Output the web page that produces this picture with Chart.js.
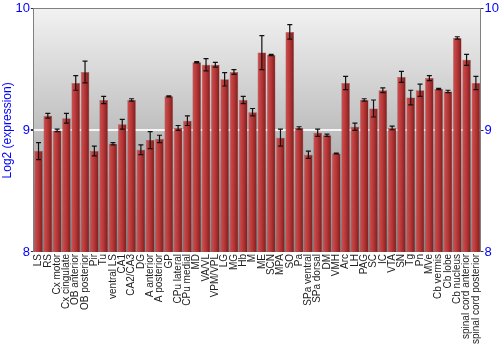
<!DOCTYPE html>
<html>
<head>
<meta charset="utf-8">
<script src="https://cdn.jsdelivr.net/npm/chart.js@4/dist/chart.umd.min.js"></script>
<style>
	html, body { margin: 0; padding: 0; background: #fff; }
	#wrap { width: 500px; height: 350px; }
</style>
</head>
<body>
<div id="wrap"><canvas id="expr"></canvas></div>
<script>
// 腦區名稱
const regions = ["LS", "RS", "Cx motor", "Cx cingulate", "OB anterior", "OB posterior", "Pir", "Tu",
	"ventral LS", "CA1", "CA2/CA3", "DG", "A anterior", "A posterior", "GP", "CPu lateral", "CPu medial",
	"MD", "VA/VL", "VPM/VPL", "LG", "MG", "Hb", "M", "ME", "SCN", "MPA", "SO", "Pa", "SPa ventral",
	"SPa dorsal", "DM", "VMH", "Arc", "LH", "PAG", "SC", "IC", "VTA", "SN", "Tg", "Pn", "MVe",
	"Cb vermis", "Cb lobe", "Cb nucleus", "spinal cord anterior", "spinal cord posterior"];

// 平均值 (log2)
const meanVals = [8.83, 9.12, 9.00, 9.10, 9.39, 9.48, 8.83, 9.25,
	8.89, 9.05, 9.25, 8.84, 8.92, 8.93, 9.28, 9.02, 9.08,
	9.56, 9.54, 9.54, 9.42, 9.48, 9.25, 9.15, 9.64, 9.62, 8.94, 9.81, 9.02, 8.80,
	8.98, 8.96, 8.81, 9.39, 9.03, 9.25, 9.18, 9.33, 9.02, 9.44, 9.27, 9.33, 9.43,
	9.34, 9.32, 9.76, 9.58, 9.39];

// 誤差
const errVals = [0.07, 0.02, 0.01, 0.04, 0.06, 0.09, 0.04, 0.03,
	0.01, 0.04, 0.01, 0.04, 0.07, 0.03, 0.005, 0.02, 0.04,
	0.005, 0.05, 0.02, 0.055, 0.02, 0.03, 0.03, 0.14, 0.005, 0.07, 0.06, 0.01, 0.03,
	0.03, 0.01, 0.003, 0.055, 0.03, 0.01, 0.07, 0.02, 0.015, 0.045, 0.06, 0.05, 0.02,
	0.005, 0.01, 0.01, 0.045, 0.055];

const yTicks = [8, 9, 10];

// 背景漸層
const bgPlugin = {
	id: "bgFill",
	beforeDraw: (chart) => {
		const { ctx, chartArea: a } = chart;
		const g = ctx.createLinearGradient(0, a.top, 0, a.bottom);
		g.addColorStop(0, "#f2f2f2");
		g.addColorStop(1, "#8c8c8c");
		ctx.save();
		ctx.fillStyle = g;
		ctx.fillRect(a.left, a.top, a.right - a.left, a.bottom - a.top);
		ctx.restore();
	}
};

// 誤差線
const errPlugin = {
	id: "errBars",
	afterDatasetsDraw: (chart) => {
		const ctx = chart.ctx;
		const y = chart.scales.y;
		const meta = chart.getDatasetMeta(0);
		ctx.save();
		ctx.strokeStyle = "#111";
		ctx.lineWidth = 1.2;
		meta.data.forEach((bar, i) => {
			const hi = y.getPixelForValue(meanVals[i] + errVals[i]);
			const lo = y.getPixelForValue(meanVals[i] - errVals[i]);
			ctx.beginPath();
			ctx.moveTo(bar.x, hi);
			ctx.lineTo(bar.x, lo);
			ctx.moveTo(bar.x - 2.5, hi);
			ctx.lineTo(bar.x + 2.5, hi);
			ctx.moveTo(bar.x - 2.5, lo);
			ctx.lineTo(bar.x + 2.5, lo);
			ctx.stroke();
		});
		ctx.restore();
	}
};

function barColor(c) {
	const chart = c.chart;
	const xs = chart.scales.x;
	if (!xs || !chart.chartArea) return "#b03434";
	const cx = xs.getPixelForValue(c.dataIndex);
	const half = (xs.width / regions.length) * 0.45;
	const g = chart.ctx.createLinearGradient(cx - half, 0, cx + half, 0);
	g.addColorStop(0, "#cf5050");
	g.addColorStop(0.5, "#b53636");
	g.addColorStop(1, "#7e1c1c");
	return g;
}

const tickFont = { family: "'Liberation Sans', Arial, sans-serif", size: 13 };

new Chart(document.getElementById("expr"), {
	type: "bar",
	data: {
		labels: regions,
		datasets: [{
			data: meanVals,
			backgroundColor: barColor,
			borderColor: "rgba(110, 20, 20, 0.6)",
			borderWidth: 0.5,
			categoryPercentage: 1,
			barPercentage: 0.92
		}]
	},
	options: {
		responsive: true,
		maintainAspectRatio: false,
		animation: false,
		layout: { padding: { top: 4, right: 0, left: 0, bottom: 4 } },
		plugins: {
			legend: { display: false },
			tooltip: { enabled: false }
		},
		scales: {
			x: {
				grid: { display: false, drawTicks: false },
				border: { color: "#808080" },
				ticks: {
					autoSkip: false,
					maxRotation: 90,
					minRotation: 90,
					padding: 2,
					color: "#222",
					font: { family: "'Liberation Sans', Arial, sans-serif", size: 10 }
				}
			},
			y: {
				position: "left",
				min: 8,
				max: 10,
				afterBuildTicks: (s) => { s.ticks = yTicks.map((v) => ({ value: v })); },
				grid: {
					color: (c) => (c.tick && c.tick.value === 9 ? "rgba(255,255,255,0.85)" : "#808080"),
					lineWidth: (c) => (c.tick && c.tick.value === 9 ? 2 : 1),
					tickColor: "#333",
					tickLength: 3
				},
				border: { color: "#808080" },
				ticks: { color: "#0000ff", font: tickFont, padding: 1 },
				title: {
					display: true,
					text: "Log2 (expression)",
					color: "#0000ff",
					font: { family: "'Liberation Sans', Arial, sans-serif", size: 12 },
					padding: 0
				}
			},
			y2: {
				position: "right",
				min: 8,
				max: 10,
				afterBuildTicks: (s) => { s.ticks = yTicks.map((v) => ({ value: v })); },
				grid: { drawOnChartArea: false, tickColor: "#333", tickLength: 3 },
				border: { color: "#808080" },
				ticks: { color: "#0000ff", font: tickFont, padding: 1 }
			}
		}
	},
	plugins: [bgPlugin, errPlugin]
});
</script>
</body>
</html>
